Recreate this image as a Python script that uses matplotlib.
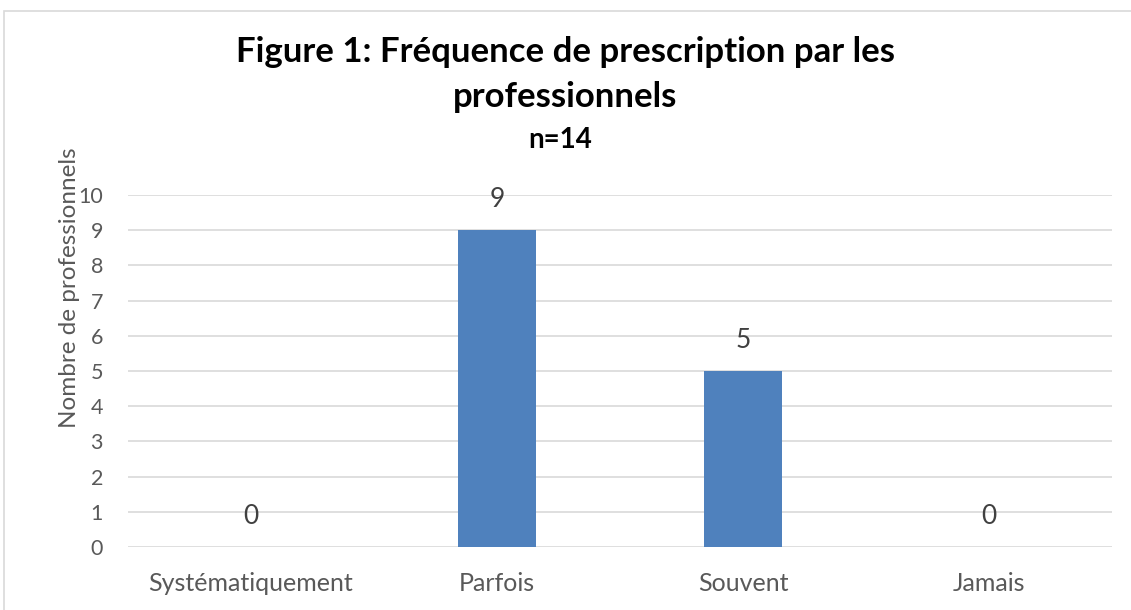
import numpy as np
import matplotlib.pyplot as plt
from matplotlib.patches import Rectangle

categories = ['Systématiquement', 'Parfois', 'Souvent', 'Jamais']
counts = [0, 9, 5, 0]
yticks = list(range(0, 11))

title_lines = ['Figure 1: Fréquence de prescription par les', 'professionnels']
subtitle = 'n=14'
ylabel = 'Nombre de professionnels'

plt.rcParams['font.family'] = ['Lato', 'DejaVu Sans']

fig = plt.figure(figsize=(11.31, 6.10), dpi=100)
ax = fig.add_axes([128 / 1131, 1 - 547 / 610, 984 / 1131, 352 / 610])

x = np.arange(len(categories))
ax.bar(x, counts, width=0.317, color='#4F81BD', zorder=3)

for xi, v in zip(x, counts):
    ax.annotate(str(v), xy=(xi, v), xytext=(0, 22), textcoords='offset points',
                ha='center', va='center', fontsize=19, color='#404040')

ax.set_xlim(-0.5, len(categories) - 0.5)
ax.set_ylim(0, 10)
ax.set_yticks(yticks)
ax.set_xticks(x)
ax.set_xticklabels(categories)
ax.tick_params(axis='both', length=0, colors='#595959')
ax.tick_params(axis='x', pad=18, labelsize=18)
ax.tick_params(axis='y', pad=18, labelsize=15.5)
ax.grid(axis='y', color='#D9D9D9', linewidth=1.2, zorder=0)
for s in ax.spines.values():
    s.set_visible(False)

ax.set_ylabel(ylabel, fontsize=17.5, color='#595959')
ax.yaxis.set_label_coords(-0.049, 0.736)

fig.text(0.5, 1 - 52 / 610, title_lines[0], ha='center', va='center',
         fontsize=25, fontweight='bold', color='black')
fig.text(0.5, 1 - 97 / 610, title_lines[1], ha='center', va='center',
         fontsize=25, fontweight='bold', color='black')
fig.text(0.495, 1 - 140 / 610, subtitle, ha='center', va='center',
         fontsize=20, fontweight='bold', color='black')

fig.patches.append(Rectangle((4 / 1131, -0.05), 1.1, 1 - 11 / 610 + 0.05,
                             transform=fig.transFigure, fill=False,
                             edgecolor='#D9D9D9', linewidth=1.2))

fig.savefig('out.png', dpi=100)
